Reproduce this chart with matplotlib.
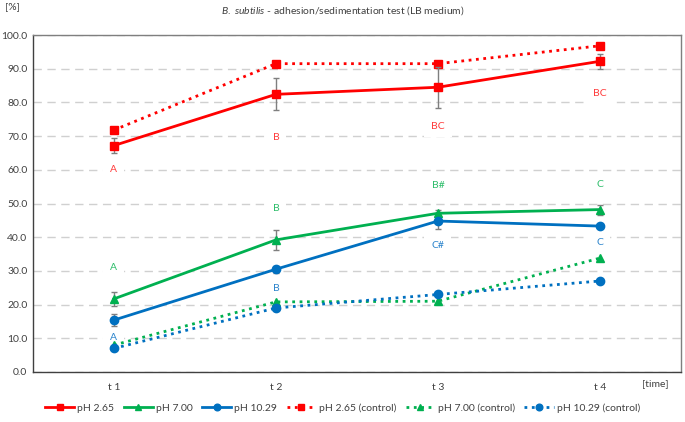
import matplotlib.pyplot as plt

plt.rcParams['font.family'] = ['Lato', 'DejaVu Sans']
plt.rcParams['mathtext.fontset'] = 'custom'
plt.rcParams['mathtext.it'] = 'Lato:italic'
plt.rcParams['mathtext.rm'] = 'Lato'

red = '#ff0000'
green = '#00b050'
blue = '#0070c0'

times = ['t 1', 't 2', 't 3', 't 4']

ph265 = [67.2, 82.4, 84.5, 92.2]
ph265_err = [2.2, 4.7, 6.1, 2.3]
ph700 = [21.7, 39.2, 47.1, 48.2]
ph700_err = [2.0, 3.0, 1.0, 1.5]
ph1029 = [15.4, 30.5, 44.8, 43.3]
ph1029_err = [1.8, 1.0, 2.5, 0.0]

ph265_ctrl = [71.8, 91.5, 91.5, 96.8]
ph700_ctrl = [8.0, 20.8, 21.0, 33.8]
ph1029_ctrl = [7.0, 19.0, 23.0, 27.0]

# significance letters (text, y position)
ph265_letters = [('A', 60.0), ('B', 69.5), ('BC', 73.0), ('BC', 82.5)]
ph700_letters = [('A', 30.9), ('B', 48.4), ('B#', 55.2), ('C', 55.5)]
ph1029_letters = [('A', 10.1), ('B', 24.9), ('C#', 37.4), ('C', 38.3)]

fs = 7.5

fig = plt.figure(figsize=(6.85, 4.22), dpi=100)
ax = fig.add_axes([0.048, 0.1185, 0.946, 0.7985])

x = range(len(times))

ax.plot(x, ph265_ctrl, color=red, ls=':', lw=2, marker='s', ms=6, label='pH 2.65 (control)', zorder=3)
ax.plot(x, ph700_ctrl, color=green, ls=':', lw=2, marker='^', ms=6, label='pH 7.00 (control)', zorder=3)
ax.plot(x, ph1029_ctrl, color=blue, ls=':', lw=2, marker='o', ms=6, label='pH 10.29 (control)', zorder=3)

for vals, errs, col, mk, lab in [(ph265, ph265_err, red, 's', 'pH 2.65'),
                                 (ph700, ph700_err, green, '^', 'pH 7.00'),
                                 (ph1029, ph1029_err, blue, 'o', 'pH 10.29')]:
    ax.errorbar(x, vals, yerr=errs, fmt='none', ecolor='#7f7f7f', elinewidth=1, capsize=2, capthick=1, zorder=4)
    ax.plot(x, vals, color=col, lw=2, marker=mk, ms=6, label=lab, zorder=5)

for letters, col in [(ph265_letters, '#ff3b3b'), (ph700_letters, '#2dbd6a'), (ph1029_letters, '#2b84cc')]:
    for i, (txt, yv) in enumerate(letters):
        ax.text(i, yv, txt, color=col, fontsize=fs, ha='center', va='center', zorder=2,
                bbox=dict(facecolor='white', edgecolor='none', pad=5))

ax.set_xlim(-0.5, 3.5)
ax.set_ylim(0, 100)
ax.set_yticks(range(0, 101, 10))
ax.set_yticklabels(['%.1f' % v for v in range(0, 101, 10)])
ax.set_xticks(list(x))
ax.set_xticklabels(times)
ax.tick_params(length=0, labelsize=fs, colors='#404040', pad=8)
ax.tick_params(axis='y', pad=4)
ax.yaxis.grid(True, color='#d0d0d0', ls=(0, (6, 4)), lw=1)
ax.set_axisbelow(True)
for s in ax.spines.values():
    s.set_color('#7f7f7f')
    s.set_linewidth(1)
ax.spines['left'].set_color('#404040')
ax.spines['bottom'].set_color('#404040')

fig.text(0.5, 0.975, r'$\it{B.\ subtilis}$ - adhesion/sedimentation test (LB medium)',
         ha='center', va='center', fontsize=fs, color='#404040')
fig.text(0.018, 0.985, '[%]', ha='center', va='center', fontsize=fs, color='#404040')
fig.text(0.956, 0.092, '[time]', ha='center', va='center', fontsize=fs, color='#404040')

h, l = ax.get_legend_handles_labels()
order = [3, 4, 5, 0, 1, 2]
fig.legend([h[i] for i in order], [l[i] for i in order], loc='center', bbox_to_anchor=(0.5, 0.033),
           ncol=6, frameon=False, fontsize=fs, handlelength=2.8, columnspacing=0.9, handletextpad=0.3,
           labelcolor='#404040', markerscale=0.8)

fig.savefig('out.png', dpi=100)
